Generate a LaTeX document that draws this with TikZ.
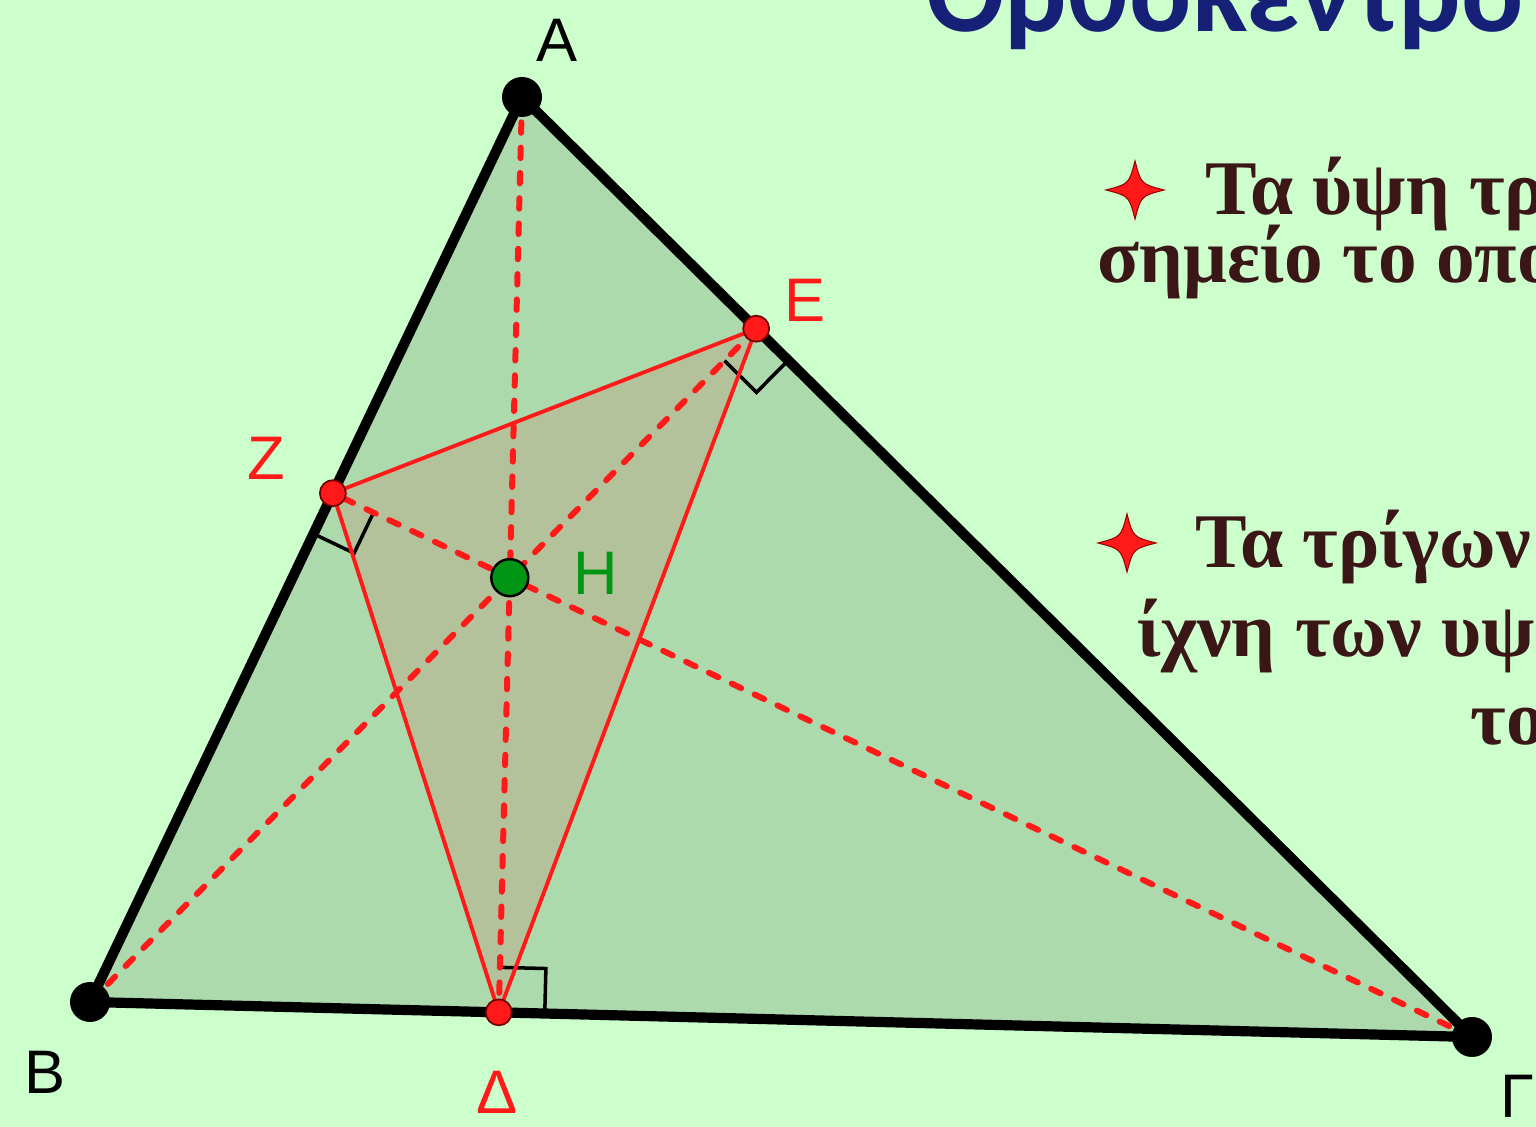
\documentclass[tikz,border=0pt]{standalone}
\usepackage{fontspec}
\setmainfont{Liberation Sans}
\newfontfamily\titlefont{Carlito}
\newfontfamily\bodyfont{Liberation Serif}
\usetikzlibrary{calc}

\definecolor{bgGreen}{RGB}{204,255,204}
\definecolor{triGreen}{RGB}{172,218,172}
\definecolor{orthoFill}{RGB}{180,194,156}
\definecolor{ptRed}{RGB}{255,25,25}
\definecolor{hGreen}{RGB}{0,150,20}
\definecolor{titleBlue}{RGB}{22,32,118}
\definecolor{textBrown}{RGB}{58,22,22}

\tikzset{
  side/.style={line width=2.9pt, line cap=round, line join=round},
  altline/.style={ptRed, line width=1.7pt, line cap=round, dash pattern=on 3.0pt off 4.2pt},
  ortholine/.style={ptRed, line width=1.1pt},
  rightmark/.style={black, line width=1pt},
  vertexdot/.style={circle, fill=black, inner sep=0pt, minimum size=0.40cm},
  footdot/.style={circle, fill=ptRed, draw=red!45!black, line width=0.5pt, inner sep=0pt, minimum size=0.26cm},
  hdot/.style={circle, fill=hGreen, draw=black, line width=0.7pt, inner sep=0pt, minimum size=0.37cm},
  ptlabel/.style={inner sep=0pt, font=\fontsize{17.5}{20}\selectfont},
  bodyline/.style={anchor=base west, inner sep=0pt, text=textBrown, font=\bodyfont\bfseries\fontsize{22}{26}\selectfont},
  sparkle/.pic={
    \fill[ptRed, draw=red!60!black, line width=0.3pt]
      (0,0.29) .. controls (0.06,0.06) .. (0.29,0)
      .. controls (0.06,-0.06) .. (0,-0.29)
      .. controls (-0.06,-0.06) .. (-0.29,0)
      .. controls (-0.06,0.06) .. cycle;
  }
}

\begin{document}
\begin{tikzpicture}
\useasboundingbox (0,0) rectangle (15.36,-11.27);
\fill[bgGreen] (0,0) rectangle (15.36,-11.27);

\coordinate (A) at (5.22,-0.97);
\coordinate (B) at (0.90,-10.02);
\coordinate (G) at (14.72,-10.37);
\coordinate (D) at ($(B)!(A)!(G)$);
\coordinate (E) at ($(A)!(B)!(G)$);
\coordinate (Z) at ($(A)!(G)!(B)$);
\coordinate (H) at (intersection of A--D and B--E);

\fill[triGreen] (A) -- (B) -- (G) -- cycle;
\fill[orthoFill] (D) -- (E) -- (Z) -- cycle;

\coordinate (d1) at ($(D)!0.46cm!(G)$);
\coordinate (d2) at ($(D)!0.45cm!(A)$);
\coordinate (e1) at ($(E)!0.45cm!(G)$);
\coordinate (e2) at ($(E)!0.45cm!(B)$);
\coordinate (z1) at ($(Z)!0.45cm!(B)$);
\coordinate (z2) at ($(Z)!0.45cm!(G)$);
\draw[rightmark] (d1) -- ($(d1)+(d2)-(D)$) -- (d2);
\draw[rightmark] (e1) -- ($(e1)+(e2)-(E)$) -- (e2);
\draw[rightmark] (z1) -- ($(z1)+(z2)-(Z)$) -- (z2);

\draw[altline] (A) -- (D);
\draw[altline] (B) -- (E);
\draw[altline] (G) -- (Z);

\draw[ortholine] (D) -- (E) -- (Z) -- cycle;

\draw[side] (A) -- (B) -- (G) -- cycle;

\node[vertexdot] (dotA) at (A) {};
\node[vertexdot] (dotB) at (B) {};
\node[vertexdot] (dotG) at (G) {};
\node[footdot] (dotD) at (D) {};
\node[footdot] (dotE) at (E) {};
\node[footdot] (dotZ) at (Z) {};
\node[hdot] (dotH) at (H) {};

\node[ptlabel] (labA) at (5.57,-0.40) {A};
\node[ptlabel] (labB) at (0.45,-10.72) {B};
\node[ptlabel, anchor=base west] (labG) at (15.00,-11.17) {Γ};
\node[ptlabel, text=ptRed] (labD) at (4.97,-10.92) {Δ};
\node[ptlabel, text=ptRed] (labE) at (8.05,-3.00) {E};
\node[ptlabel, text=ptRed] (labZ) at (2.66,-4.58) {Z};
\node[ptlabel, text=hGreen] (labH) at (5.96,-5.73) {H};

\node[anchor=base west, inner sep=0pt, text=titleBlue, font=\titlefont\bfseries\fontsize{33}{36}\selectfont] (title) at (9.26,-0.32) {Ορθόκεντρο};

\pic at (11.35,-1.90) {sparkle};
\node[bodyline] (line1) at (12.05,-2.15) {Τα ύψη τρ};
\node[bodyline] (line2) at (10.97,-2.83) {σημείο το οπο};
\pic at (11.27,-5.43) {sparkle};
\node[bodyline] (line3) at (11.95,-5.68) {Τα τρίγων};
\node[bodyline] (line4) at (11.37,-6.57) {ίχνη των υψ};
\node[bodyline] (line5) at (14.70,-7.45) {το};
\end{tikzpicture}
\end{document}
